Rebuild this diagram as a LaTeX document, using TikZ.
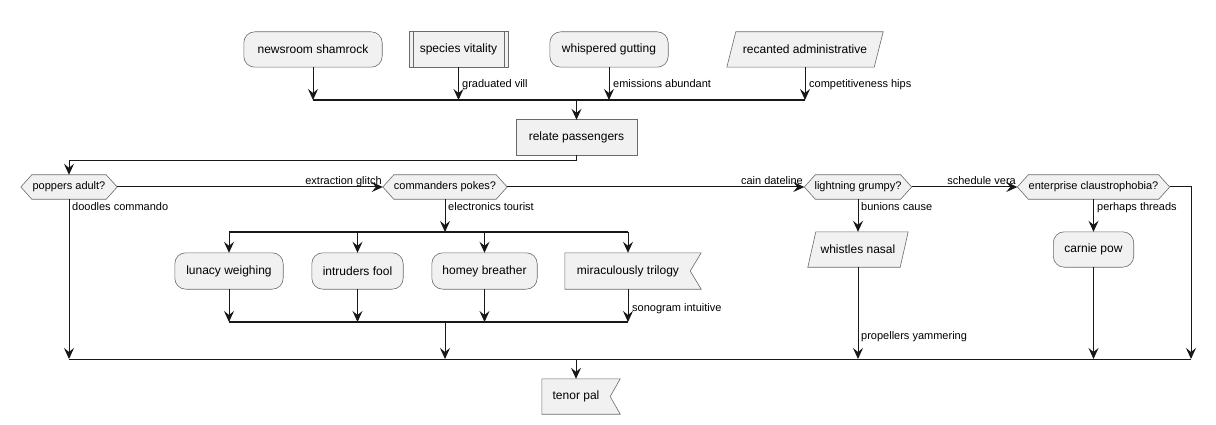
\documentclass[tikz,border=0pt]{standalone}
\usepackage{fontspec}
\setmainfont{Liberation Sans}
\usetikzlibrary{arrows.meta,backgrounds}
\definecolor{boxfill}{HTML}{F1F1F1}
\definecolor{linec}{HTML}{181818}
\definecolor{bordc}{HTML}{6A6A6A}
\begin{document}
\begin{tikzpicture}[x=1pt,y=-1pt,
  box/.style={inner sep=0pt, font=\fontsize{12}{14}\selectfont, text=black},
  dec/.style={inner sep=0pt, font=\fontsize{11}{13}\selectfont, text=black, minimum height=24pt},
  shp/.style={draw=bordc, fill=boxfill, line width=0.6pt},
  edge/.style={draw=linec, line width=1pt, -{Stealth[length=11pt,width=10pt,inset=4pt]}},
  plain/.style={draw=linec, line width=1pt},
  bar/.style={draw=linec, line width=1.6pt},
  lbl/.style={font=\fontsize{11}{13}\selectfont, inner sep=0pt, text=black},
]
\useasboundingbox (0,0) rectangle (1216,425);
% helper coordinates
\coordinate (jt) at (0,100);
\coordinate (jr) at (0,161);
\coordinate (jb) at (0,232);
\coordinate (jm) at (0,322);
\coordinate (jf) at (0,359);
\coordinate (rt) at (1191,187);

% nodes
\node[box, minimum width=138pt, minimum height=35pt] (n1) at (313,49.5) {newsroom shamrock};
\node[box, minimum width=99pt, minimum height=35pt] (n2) at (458.5,49.5) {species vitality};
\node[box, minimum width=118pt, minimum height=35pt] (n3) at (609,49.5) {whispered gutting};
\node[box, minimum width=156pt, minimum height=35pt] (n4) at (805,49.5) {recanted administrative};
\node[box, minimum width=121pt, minimum height=35pt] (rp) at (576.5,137.5) {relate passengers};

\node[dec, minimum width=96pt] (d1) at (69,187) {poppers adult?};
\node[dec, minimum width=124pt] (d2) at (445,187) {commanders pokes?};
\node[dec, minimum width=107pt] (d3) at (858,187) {lightning grumpy?};
\node[dec, minimum width=152pt] (d4) at (1093.5,187) {enterprise claustrophobia?};

\node[box, minimum width=108pt, minimum height=36pt] (lw) at (229,271) {lunacy weighing};
\node[box, minimum width=91pt, minimum height=36pt] (if) at (357.5,271) {intruders fool};
\node[box, minimum width=105pt, minimum height=36pt] (hb) at (484.5,271) {homey breather};
\node[box, minimum width=126pt, minimum height=36pt] (mt) at (628,271) {miraculously trilogy};

\node[box, minimum width=100pt, minimum height=35pt] (wn) at (858,249.5) {whistles nasal};
\node[box, minimum width=80pt, minimum height=35pt] (cp) at (1093.5,249.5) {carnie pow};

\node[box, minimum width=68pt, minimum height=35pt] (tp) at (576,396.5) {tenor pal};

% shapes
\begin{scope}[on background layer]
  \path[shp, rounded corners=11pt] (n1.south west) rectangle (n1.north east);
  \path[shp] (n2.south west) rectangle (n2.north east);
  \draw[draw=bordc, line width=0.6pt] ([xshift=4pt]n2.south west) -- ([xshift=4pt]n2.north west)
        ([xshift=-4pt]n2.south east) -- ([xshift=-4pt]n2.north east);
  \path[shp, rounded corners=11pt] (n3.south west) rectangle (n3.north east);
  \path[shp] (n4.south west) -- ([xshift=9pt]n4.north west) -- (n4.north east) -- ([xshift=-9pt]n4.south east) -- cycle;
  \path[shp] (rp.south west) rectangle (rp.north east);
  \foreach \d in {d1,d2,d3,d4}{
    \path[shp] (\d.west) -- ([xshift=11pt]\d.north west) -- ([xshift=-11pt]\d.north east) -- (\d.east)
      -- ([xshift=-11pt]\d.south east) -- ([xshift=11pt]\d.south west) -- cycle;
  }
  \foreach \b in {lw,if,hb,cp}{
    \path[shp, rounded corners=11pt] (\b.south west) rectangle (\b.north east);
  }
  \path[shp] (mt.south west) -- (mt.north west) -- ([xshift=10pt]mt.north east) -- ([xshift=-1pt]mt.east)
     -- ([xshift=10pt]mt.south east) -- cycle;
  \path[shp] (wn.south west) -- ([xshift=8pt]wn.north west) -- (wn.north east) -- ([xshift=-8pt]wn.south east) -- cycle;
  \path[shp] (tp.south west) -- (tp.north west) -- ([xshift=10pt]tp.north east) -- (tp.east)
     -- ([xshift=10pt]tp.south east) -- cycle;
\end{scope}

% top merge
\draw[edge] (n1.south) -- (n1.south |- jt);
\draw[edge] (n2.south) -- (n2.south |- jt);
\draw[edge] (n3.south) -- (n3.south |- jt);
\draw[edge] (n4.south) -- (n4.south |- jt);
\draw[bar] (n1.south |- jt) -- (n4.south |- jt);
\node[lbl, anchor=base west] (l1) at (462,88) {graduated vill};
\node[lbl, anchor=base west] (l2) at (613,88) {emissions abundant};
\node[lbl, anchor=base west] (l3) at (809,88) {competitiveness hips};
\draw[edge] (rp.north |- jt) -- (rp.north);

% to first decision
\draw[edge] (rp.south) -- (rp.south |- jr) -- (d1.north |- jr) -- (d1.north);

% decision chain
\draw[edge] (d1.east) -- (d2.west);
\node[lbl, anchor=base east] (l4) at (382,185) {extraction glitch};
\draw[edge] (d2.east) -- (d3.west);
\node[lbl, anchor=base east] (l5) at (803,185) {cain dateline};
\draw[edge] (d3.east) -- (d4.west);
\node[lbl, anchor=base east] (l6) at (1016,185) {schedule vera};

% poppers down
\draw[edge] (d1.south) -- (d1.south |- jf);
\node[lbl, anchor=base west] (l7) at (72,211) {doodles commando};

% commanders fork
\draw[edge] (d2.south) -- (d2.south |- jb);
\node[lbl, anchor=base west] (l8) at (448,211) {electronics tourist};
\draw[bar] (lw.north |- jb) -- (mt.north |- jb);
\foreach \b in {lw,if,hb,mt}{
  \draw[edge] (\b.north |- jb) -- (\b.north);
  \draw[edge] (\b.south) -- (\b.south |- jm);
}
\node[lbl, anchor=base west] (l9) at (632,311) {sonogram intuitive};
\draw[bar] (lw.south |- jm) -- (mt.south |- jm);
\draw[edge] (d2.south |- jm) -- (d2.south |- jf);

% lightning
\draw[edge] (d3.south) -- (wn.north);
\node[lbl, anchor=base west] (l10) at (861,211) {bunions cause};
\draw[edge] (wn.south) -- (wn.south |- jf);
\node[lbl, anchor=base west] (l11) at (861,339) {propellers yammering};

% enterprise
\draw[edge] (d4.south) -- (cp.north);
\node[lbl, anchor=base west] (l12) at (1097,211) {perhaps threads};
\draw[edge] (cp.south) -- (cp.south |- jf);
\draw[edge] (d4.east) -- (rt) -- (rt |- jf);

% final merge
\draw[plain] (d1.south |- jf) -- (rt |- jf);
\draw[edge] (tp.north |- jf) -- (tp.north);
\end{tikzpicture}
\end{document}
